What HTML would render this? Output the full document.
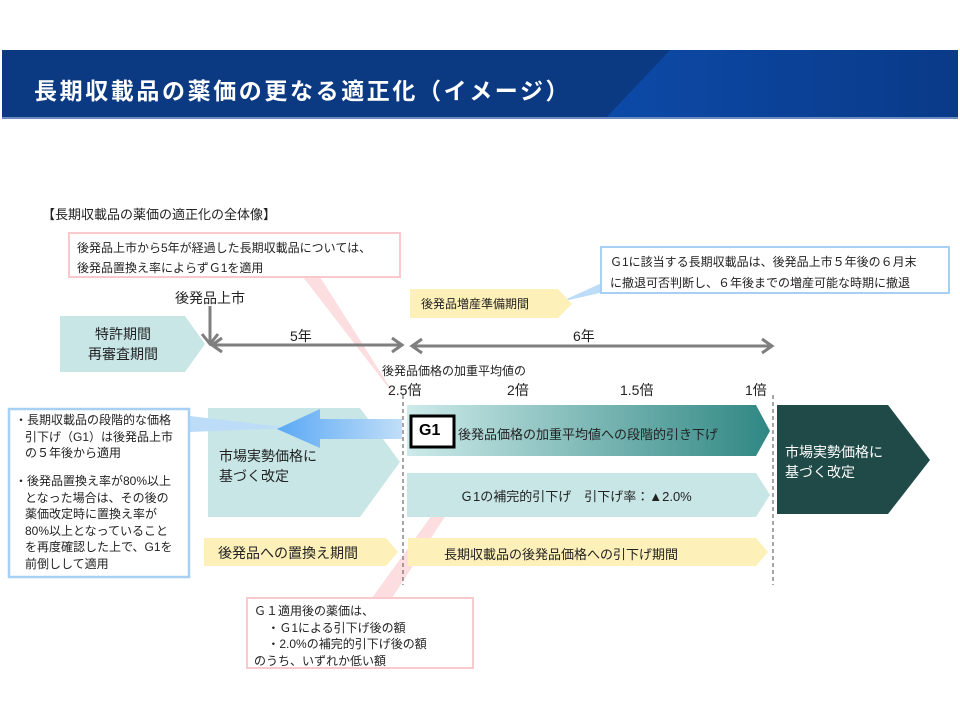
<!DOCTYPE html>
<html><head><meta charset="utf-8"><style>
body{margin:0;width:960px;height:720px;background:#fff;position:relative;overflow:hidden;font-family:"Liberation Sans","Noto Sans CJK JP",sans-serif;color:#222}
.t{position:absolute;white-space:nowrap}
</style></head><body>
<svg width="960" height="720" style="position:absolute;left:0;top:0">
<defs>
<linearGradient id="hb" x1="0" x2="1"><stop offset="0" stop-color="#0c4aa8"/><stop offset="1" stop-color="#0a3a88"/></linearGradient>
<linearGradient id="g1" x1="0" x2="1"><stop offset="0" stop-color="#cdebea"/><stop offset="1" stop-color="#2f8783"/></linearGradient>
<linearGradient id="ba" x1="0" x2="1"><stop offset="0" stop-color="#5aa8f5"/><stop offset="1" stop-color="#c0def8"/></linearGradient>
</defs>
<rect x="2" y="50" width="956" height="68" fill="#0b3a82"/>
<polygon points="670,50 958,50 958,118 606,118" fill="url(#hb)"/>
<rect x="2" y="117" width="956" height="2" fill="#6a8cc0"/>
<polygon points="303,277 320,277 398,400" fill="#fcdde0"/>
<polygon points="432,515 446,515 392,598 372,598" fill="#fcdde0"/>
<polygon points="560,302 604,282 604,292" fill="#bcdcf8"/>
<polygon points="60,316 185,316 205,344 185,372 60,372" fill="#c8e6e6"/>
<polygon points="410,289 558,289 572,304 558,318 410,318" fill="#fdf0b8"/>
<g stroke="#7f7f7f" stroke-width="3" fill="none">
<line x1="210" y1="306" x2="210" y2="343"/>
<polyline points="202,334 210,344 218,334"/>
<line x1="212" y1="345" x2="402" y2="345"/>
<polyline points="222,338 212,345 222,352"/><polyline points="392,338 402,345 392,352"/>
<line x1="412" y1="346" x2="772" y2="346"/>
<polyline points="422,339 412,346 422,353"/><polyline points="762,339 772,346 762,353"/>
</g>
<line x1="403" y1="395" x2="403" y2="585" stroke="#777" stroke-width="1.3" stroke-dasharray="4,3"/>
<line x1="773" y1="395" x2="773" y2="585" stroke="#777" stroke-width="1.3" stroke-dasharray="4,3"/>
<polygon points="208,408 360,408 400,462 360,517 208,517" fill="#c8e6e6"/>
<polygon points="190,416 190,432 290,428" fill="#bcdcf8"/>
<polygon points="402,419 320,419 320,409 277,429 320,448 320,439 402,439" fill="url(#ba)"/>
<polygon points="407,405 756,405 770,431 756,456 407,456" fill="url(#g1)"/>
<polygon points="407,473 756,473 770,495 756,517 407,517" fill="#c8e6e6"/>
<polygon points="408,538 756,538 768,552 756,566 408,566" fill="#fdf0b8"/>
<polygon points="204,538 386,538 398,552 386,566 204,566" fill="#fdf0b8"/>
<polygon points="777,405 888,405 930,460 888,514 777,514" fill="#1f4a47"/>
<rect x="411" y="416" width="43" height="31" fill="#fff" stroke="#000" stroke-width="3"/>
<rect x="69" y="233" width="331" height="44" fill="#fff" stroke="#f9c9cd" stroke-width="2"/>
<rect x="601" y="247" width="348" height="46" fill="#fff" stroke="#a8d0f5" stroke-width="2"/>
<rect x="9" y="409" width="180" height="168" fill="#fff" stroke="#a8d0f5" stroke-width="2.5"/>
<rect x="247" y="598" width="226" height="70" fill="#fff" stroke="#f9c9cd" stroke-width="2"/>
</svg>
<div class="t" style="left:34px;top:72px;font-size:23px;font-weight:bold;color:#fff;letter-spacing:2.6px">長期収載品の薬価の更なる適正化（イメージ）</div>
<div class="t" style="left:42px;top:204px;font-size:13px">【長期収載品の薬価の適正化の全体像】</div>
<div class="t" style="left:77px;top:238px;font-size:12px;line-height:20px">後発品上市から5年が経過した長期収載品については、<br>後発品置換え率によらずＧ1を適用</div>
<div class="t" style="left:175px;top:288px;font-size:14px">後発品上市</div>
<div class="t" style="left:88px;top:324px;font-size:14px;line-height:20px;text-align:center">特許期間<br>再審査期間</div>
<div class="t" style="left:290px;top:326px;font-size:14px">5年</div>
<div class="t" style="left:573px;top:326px;font-size:14px">6年</div>
<div class="t" style="left:421px;top:295px;font-size:12px">後発品増産準備期間</div>
<div class="t" style="left:610px;top:252px;font-size:12px;line-height:21px">Ｇ1に該当する長期収載品は、後発品上市５年後の６月末<br>に撤退可否判断し、６年後までの増産可能な時期に撤退</div>
<div class="t" style="left:382px;top:362px;font-size:12px">後発品価格の加重平均値の</div>
<div class="t" style="left:388px;top:380px;font-size:14px">2.5倍</div>
<div class="t" style="left:507px;top:380px;font-size:14px">2倍</div>
<div class="t" style="left:620px;top:380px;font-size:14px">1.5倍</div>
<div class="t" style="left:745px;top:380px;font-size:14px">1倍</div>
<div class="t" style="left:15px;top:412px;font-size:12px;line-height:16.5px">・長期収載品の段階的な価格<br>&nbsp;&nbsp;&nbsp;引下げ（G1）は後発品上市<br>&nbsp;&nbsp;&nbsp;の５年後から適用</div>
<div class="t" style="left:15px;top:473px;font-size:12px;line-height:16.5px">・後発品置換え率が80%以上<br>&nbsp;&nbsp;&nbsp;となった場合は、その後の<br>&nbsp;&nbsp;&nbsp;薬価改定時に置換え率が<br>&nbsp;&nbsp;&nbsp;80%以上となっていること<br>&nbsp;&nbsp;&nbsp;を再度確認した上で、G1を<br>&nbsp;&nbsp;&nbsp;前倒しして適用</div>
<div class="t" style="left:219px;top:446px;font-size:14px;line-height:20px">市場実勢価格に<br>基づく改定</div>
<div class="t" style="left:419px;top:421px;font-size:16px;font-weight:bold;color:#000;line-height:20px">G1</div>
<div class="t" style="left:458px;top:424px;font-size:13px">後発品価格の加重平均値への段階的引き下げ</div>
<div class="t" style="left:460px;top:486px;font-size:13px">Ｇ1の補完的引下げ　引下げ率：▲2.0%</div>
<div class="t" style="left:444px;top:544px;font-size:13px">長期収載品の後発品価格への引下げ期間</div>
<div class="t" style="left:218px;top:543px;font-size:14px">後発品への置換え期間</div>
<div class="t" style="left:785px;top:442px;font-size:14px;line-height:20px;color:#fff">市場実勢価格に<br>基づく改定</div>
<div class="t" style="left:254px;top:603px;font-size:12px;line-height:16.5px">Ｇ１適用後の薬価は、<br>&nbsp;&nbsp;&nbsp;&nbsp;・Ｇ1による引下げ後の額<br>&nbsp;&nbsp;&nbsp;&nbsp;・2.0%の補完的引下げ後の額<br>のうち、いずれか低い額</div>
</body></html>
